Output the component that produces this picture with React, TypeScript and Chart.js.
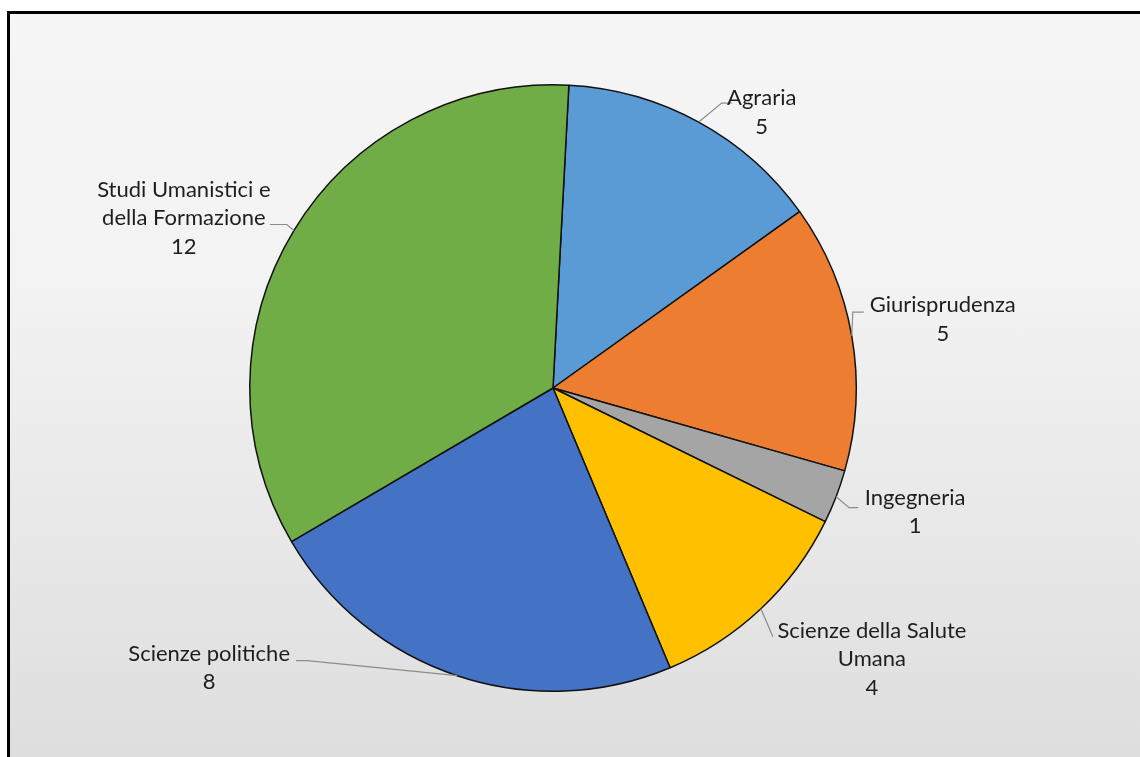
import React, { useEffect, useRef } from "react";
import { Chart, registerables } from "chart.js";

Chart.register(...registerables);

const categories = [
  "Agraria",
  "Giurisprudenza",
  "Ingegneria",
  "Scienze della Salute Umana",
  "Scienze politiche",
  "Studi Umanistici e della Formazione",
];
const values = [5, 5, 1, 4, 8, 12];
const sliceColors = ["#5B9BD5", "#ED7D31", "#A5A5A5", "#FFC000", "#4472C4", "#70AD47"];

// label placement relative to the slice's outer mid-point (layout only)
const labelLayout = [
  { dx: 63, dy: -24, wrap: 1000, leader: [[23, -19], [33, -19]] },
  { dx: 91, dy: -31, wrap: 1000, leader: [[1, -24], [12, -24]] },
  { dx: 79, dy: 1, wrap: 1000, leader: [[13, 11], [22, 11]] },
  { dx: 111, dy: 22, wrap: 220, leader: [[12, 28]] },
  { dx: -248, dy: -22, wrap: 1000, leader: [[-150, -15], [-161, -15]] },
  { dx: -110, dy: -41, wrap: 205, leader: [[-7, -6], [-24, -6]] },
];

const FONT = "22px Lato, 'DejaVu Sans', sans-serif";
const LINE_H = 28.5;

function wrapText(ctx: CanvasRenderingContext2D, text: string, maxW: number): string[] {
  const words = text.split(" ");
  const lines: string[] = [];
  let cur = "";
  for (const w of words) {
    const t = cur ? cur + " " + w : w;
    if (cur && ctx.measureText(t).width > maxW) {
      lines.push(cur);
      cur = w;
    } else cur = t;
  }
  if (cur) lines.push(cur);
  return lines;
}

const labelPlugin = {
  id: "outerLabels",
  afterDatasetsDraw(chart: any) {
    const ctx: CanvasRenderingContext2D = chart.ctx;
    const meta = chart.getDatasetMeta(0);
    const labels: string[] = chart.data.labels;
    const data: number[] = chart.data.datasets[0].data;
    ctx.save();
    ctx.font = FONT;
    meta.data.forEach((arc: any, i: number) => {
      const p = arc.getProps(["x", "y", "startAngle", "endAngle", "outerRadius"], true);
      const mid = (p.startAngle + p.endAngle) / 2;
      const ax = p.x + Math.cos(mid) * p.outerRadius;
      const ay = p.y + Math.sin(mid) * p.outerRadius;
      const lay = labelLayout[i];
      ctx.strokeStyle = "#8c8c8c";
      ctx.lineWidth = 1.2;
      ctx.beginPath();
      ctx.moveTo(ax, ay);
      lay.leader.forEach(([lx, ly]) => ctx.lineTo(ax + lx, ay + ly));
      ctx.stroke();
      const lines = wrapText(ctx, labels[i], lay.wrap);
      lines.push(String(data[i]));
      ctx.fillStyle = "#1e1e1e";
      ctx.textAlign = "center";
      ctx.textBaseline = "middle";
      lines.forEach((ln, k) => {
        ctx.fillText(ln, ax + lay.dx, ay + lay.dy + k * LINE_H);
      });
    });
    ctx.restore();
  },
};

export default function App() {
  const canvasRef = useRef<HTMLCanvasElement | null>(null);

  useEffect(() => {
    if (!canvasRef.current) return;
    const chart = new Chart(canvasRef.current, {
      type: "pie",
      data: {
        labels: categories,
        datasets: [
          {
            data: values,
            backgroundColor: sliceColors,
            borderColor: "#111111",
            borderWidth: 1.5,
          },
        ],
      },
      options: {
        responsive: false,
        animation: false,
        rotation: 3,
        layout: { padding: { top: 84, bottom: 65, left: 249, right: 283 } },
        plugins: {
          legend: { display: false },
          tooltip: { enabled: false },
        },
      },
      plugins: [labelPlugin],
    });
    return () => chart.destroy();
  }, []);

  return (
    <div style={{ position: "absolute", left: 0, top: 0, width: 1140, height: 757, background: "#ffffff", overflow: "hidden" }}>
      <div
        style={{
          position: "absolute",
          left: 7,
          top: 11,
          right: 0,
          bottom: 0,
          borderTop: "3px solid #000",
          borderLeft: "3px solid #000",
          background: "linear-gradient(180deg, #f5f5f5 0%, #f3f3f3 35%, #dedede 100%)",
        }}
      />
      <canvas ref={canvasRef} width={1140} height={757} style={{ position: "absolute", left: 0, top: 0 }} />
    </div>
  );
}
